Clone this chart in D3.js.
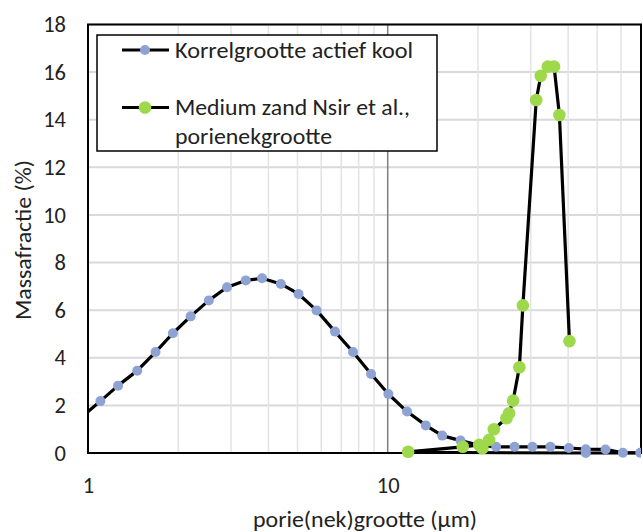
<!DOCTYPE html>
<html><head><meta charset="utf-8">
<script src="https://cdn.jsdelivr.net/npm/d3@7"></script>
<style>body{margin:0;background:#fff}svg{display:block}</style>
</head><body><svg id="c" width="643" height="532"></svg>
<script>
// Data
const seriesNames = ["Korrelgrootte actief kool", "Medium zand Nsir et al.,", "porienekgrootte"];
const koolX = [0.96,1.10,1.26,1.46,1.68,1.92,2.20,2.53,2.91,3.36,3.81,4.40,5.04,5.79,6.67,7.66,8.80,10.05,11.6,13.4,15.2,17.5,20.1,23.0,26.5,30.4,34.9,40.2,45.8,53.3,60.9,69.6];
const koolY = [1.55,2.18,2.83,3.46,4.24,5.03,5.74,6.41,6.96,7.25,7.34,7.10,6.68,5.99,5.10,4.24,3.32,2.48,1.74,1.16,0.73,0.52,0.33,0.26,0.26,0.26,0.26,0.21,0.16,0.15,0.01,0.01];
const koolTailX = [11.7,45.8,70];
const koolTailY = [0.03,0.0,0.0];
const zandX = [11.7,17.8,20.2,20.7,21.8,22.6,24.9,25.4,26.2,27.5,28.25,31.3,32.4,34.2,35.9,37.4,40.4];
const zandY = [0.05,0.26,0.34,0.20,0.55,1.0,1.46,1.67,2.2,3.6,6.2,14.83,15.84,16.23,16.23,14.2,4.7];
const yTicks = [0,2,4,6,8,10,12,14,16,18];
const xTickLabels = [1,10];
const xMinor = [2,3,4,5,6,7,8,9,20,30,40,50,60];

const svg = d3.select("#c");
const L=88,R=641,T=24.5,B=453;
const x = d3.scaleLog().domain([1,70]).range([L,R]);
const y = d3.scaleLinear().domain([0,18]).range([B,T]);
const font = "Carlito, Calibri, 'Open Sans', sans-serif";
const fs = 22.5;

svg.append("defs").append("clipPath").attr("id","clip")
  .append("rect").attr("x",L).attr("y",T-10).attr("width",R-L).attr("height",B-T+20);

// gridlines
svg.append("g").selectAll("line").data(yTicks.filter(d=>d>0)).join("line")
  .attr("x1",L).attr("x2",R).attr("y1",d=>y(d)).attr("y2",d=>y(d))
  .attr("stroke","#d9d9d9").attr("stroke-width",2);
svg.append("g").selectAll("line").data(xMinor).join("line")
  .attr("x1",d=>x(d)).attr("x2",d=>x(d)).attr("y1",T).attr("y2",B)
  .attr("stroke","#e3e3e3").attr("stroke-width",1.5);
svg.append("line").attr("x1",x(10)).attr("x2",x(10)).attr("y1",T).attr("y2",B)
  .attr("stroke","#7f7f7f").attr("stroke-width",1.5);

// axes (labels)
const yAxis = d3.axisLeft(y).tickValues(yTicks).tickSize(0).tickPadding(22);
const gy = svg.append("g").attr("transform",`translate(${L},0)`).call(yAxis);
gy.select(".domain").remove();
gy.selectAll("text").attr("font-family",font).attr("font-size",fs).attr("fill","#222");
const xAxis = d3.axisBottom(x).tickValues(xTickLabels).tickFormat(d3.format("d")).tickSize(0).tickPadding(24);
const gx = svg.append("g").attr("transform",`translate(0,${B})`).call(xAxis);
gx.select(".domain").remove();
gx.selectAll("text").attr("font-family",font).attr("font-size",fs).attr("fill","#222");

// plot border
svg.append("rect").attr("x",L).attr("y",T).attr("width",R-L).attr("height",B-T)
  .attr("fill","none").attr("stroke","#000").attr("stroke-width",2);

const plot = svg.append("g").attr("clip-path","url(#clip)");
const line = d3.line().x(d=>x(d[0])).y(d=>y(d[1]));
const kool = koolX.map((v,i)=>[v,koolY[i]]);
const tail = koolTailX.map((v,i)=>[v,koolTailY[i]]);
const zand = zandX.map((v,i)=>[v,zandY[i]]);

plot.append("path").datum(tail).attr("d",line).attr("fill","none").attr("stroke","#000").attr("stroke-width",3);
plot.append("path").datum(kool).attr("d",line).attr("fill","none").attr("stroke","#000").attr("stroke-width",3.2).attr("stroke-linejoin","round");
plot.append("g").selectAll("circle").data(kool.concat([tail[1]])).join("circle")
  .attr("cx",d=>x(d[0])).attr("cy",d=>y(d[1])).attr("r",5).attr("fill","#8ea3d3");
plot.append("path").datum(zand).attr("d",line).attr("fill","none").attr("stroke","#000").attr("stroke-width",3.2).attr("stroke-linejoin","round");
plot.append("g").selectAll("circle").data(zand).join("circle")
  .attr("cx",d=>x(d[0])).attr("cy",d=>y(d[1])).attr("r",6.3).attr("fill","#9dd94a");

// legend
const lg = svg.append("g");
lg.append("rect").attr("x",97).attr("y",35).attr("width",340).attr("height",116)
  .attr("fill","#fff").attr("stroke","#000").attr("stroke-width",1.5);
const leg = [{y:50,c:"#8ea3d3",r:5},{y:107.5,c:"#9dd94a",r:6.3}];
leg.forEach(e=>{
  lg.append("line").attr("x1",122).attr("x2",169).attr("y1",e.y).attr("y2",e.y).attr("stroke","#000").attr("stroke-width",3);
  lg.append("circle").attr("cx",145).attr("cy",e.y).attr("r",e.r).attr("fill",e.c);
});
const lt = [{t:seriesNames[0],y:50,w:238},{t:seriesNames[1],y:107.5,w:235},{t:seriesNames[2],y:136.5,w:157}];
lt.forEach(e=>{
  lg.append("text").attr("x",175).attr("y",e.y).attr("dy","0.35em").text(e.t)
    .attr("font-family",font).attr("font-size",fs).attr("fill","#222")
    .attr("textLength",e.w).attr("lengthAdjust","spacingAndGlyphs");
});

// axis titles
svg.append("text").attr("x",365).attr("y",519).attr("dy","0.35em").attr("text-anchor","middle")
  .attr("font-family",font).attr("font-size",fs).attr("fill","#222")
  .attr("textLength",224).attr("lengthAdjust","spacingAndGlyphs").text("porie(nek)grootte (µm)");
svg.append("text").attr("transform","translate(23,240) rotate(-90)").attr("dy","0.35em").attr("text-anchor","middle")
  .attr("font-family",font).attr("font-size",fs).attr("fill","#222")
  .attr("textLength",160).attr("lengthAdjust","spacingAndGlyphs").text("Massafractie (%)");
</script></body></html>
